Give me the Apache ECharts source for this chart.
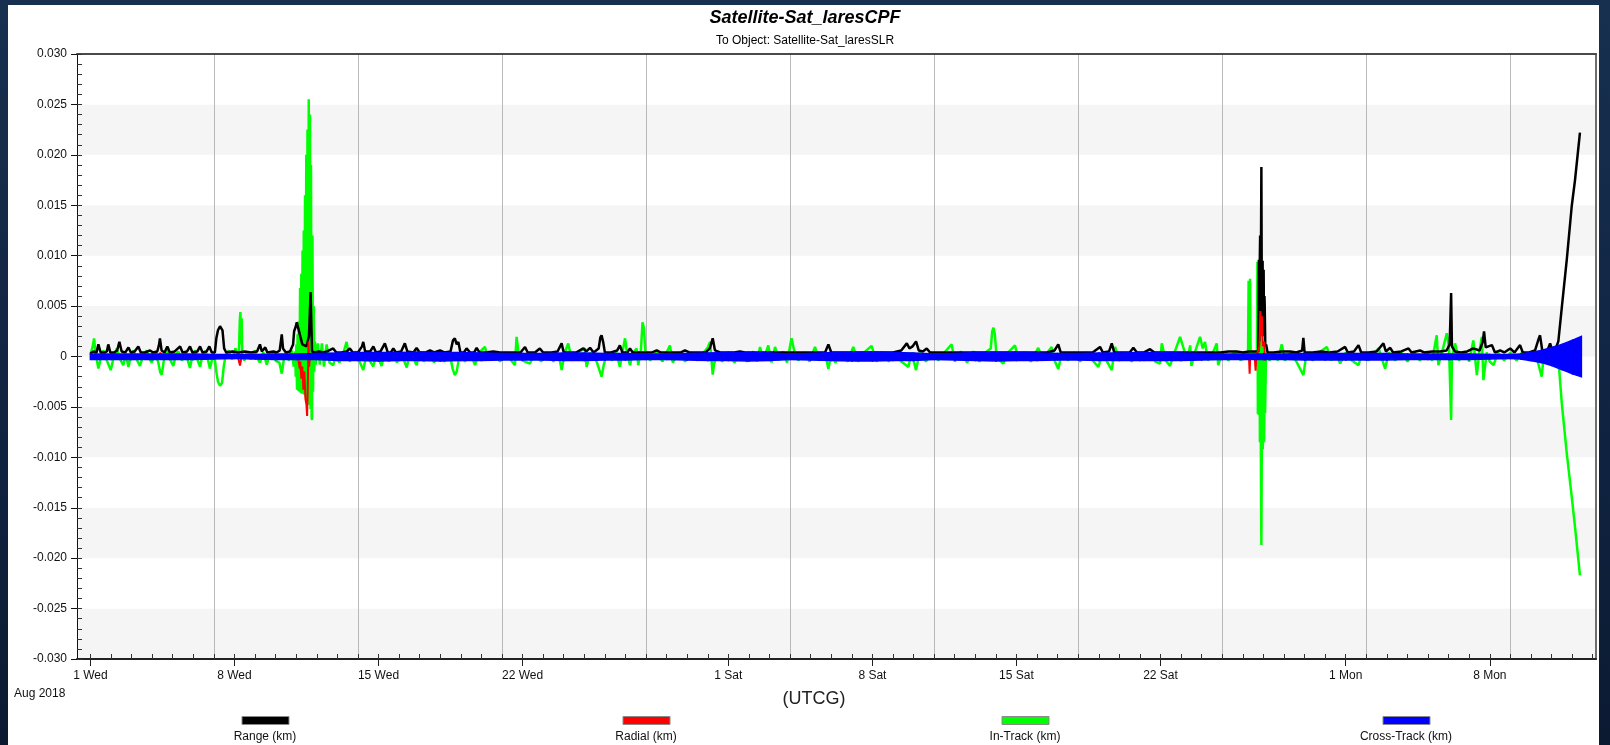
<!DOCTYPE html>
<html>
<head>
<meta charset="utf-8">
<script src="https://cdn.jsdelivr.net/npm/echarts@6/dist/echarts.min.js"></script>
<style>
html, body { margin: 0; padding: 0; width: 1610px; height: 745px; overflow: hidden;
  background: linear-gradient(180deg, #17304f 0%, #102442 55%, #0b1a31 100%); }
#chart { width: 1610px; height: 745px; }
</style>
</head>
<body>
<div id="chart"></div>
<script>
// Time axis is in days since 2018-08-01 00:00 UTCG.
const X_MIN = -0.65;
const X_MAX = 73.16;
const TICK_DAYS = [0, 7, 14, 21, 31, 38, 45, 52, 61, 68];
const TICK_LABELS = ['1 Wed', '8 Wed', '15 Wed', '22 Wed', '1 Sat', '8 Sat', '15 Sat', '22 Sat', '1 Mon', '8 Mon'];
const GRID_DAYS = [6, 13, 20, 27, 34, 41, 48, 55, 62, 69];
const Y_MIN = -0.03;
const Y_MAX = 0.03;
const Y_STEP = 0.005;

const SERIES_NAMES = ['Range (km)', 'Radial (km)', 'In-Track (km)', 'Cross-Track (km)'];
const SERIES_COLORS = ['#000000', '#ff0000', '#00ff00', '#0000ff'];

// Range difference, km  [day, value]
const RANGE_KM = [
  [0.00,0.0003],[0.15,0.0005],[0.30,0.0004],[0.39,0.0012],[0.50,0.0004],[0.70,0.0004],[0.80,0.0005],[0.87,0.0012],[0.97,0.0004],
  [1.15,0.0004],[1.30,0.0006],[1.41,0.00145],[1.52,0.0005],[1.70,0.0004],[1.85,0.0009],[1.97,0.0004],[2.15,0.0005],[2.33,0.0010],
  [2.45,0.0004],[2.65,0.0004],[2.90,0.0006],[3.05,0.0004],[3.25,0.0005],[3.33,0.0011],[3.38,0.0018],[3.46,0.0006],[3.60,0.0004],
  [3.74,0.0010],[3.86,0.0004],[4.10,0.0005],[4.36,0.0010],[4.48,0.0004],[4.70,0.0005],[4.84,0.0010],[4.96,0.0004],[5.20,0.0005],
  [5.33,0.0010],[5.45,0.0004],[5.65,0.0005],[5.78,0.0010],[5.90,0.0004],
  [6.05,0.0004],[6.12,0.0018],[6.20,0.0026],[6.30,0.0030],[6.42,0.0026],[6.50,0.0008],[6.60,0.0004],[6.90,0.0005],[7.20,0.0004],
  [7.50,0.0005],[7.80,0.0004],[8.10,0.0005],[8.24,0.0012],[8.33,0.0005],[8.50,0.0009],[8.60,0.0004],[8.90,0.0005],[9.05,0.0004],
  [9.20,0.0006],[9.30,0.0022],[9.36,0.0008],[9.50,0.0004],[9.70,0.0005],[9.85,0.0012],[9.90,0.0025],[9.97,0.0029],[10.03,0.0034],
  [10.10,0.0035],[10.20,0.0020],[10.30,0.0012],[10.50,0.0010],[10.62,0.0020],[10.70,0.0064],[10.74,0.0065],[10.77,0.0005],
  [10.90,0.0004],[11.10,0.0005],[11.30,0.0004],[11.50,0.0005],[11.80,0.0008],[11.95,0.0004],
  [12.20,0.0004],[12.45,0.0005],[12.61,0.0008],[12.75,0.0004],[13.00,0.0004],[13.20,0.0010],[13.26,0.00145],[13.35,0.0005],
  [13.60,0.0005],[13.75,0.0010],[13.88,0.0004],[14.10,0.0005],[14.31,0.0013],[14.45,0.0004],[14.60,0.0004],[14.72,0.0008],
  [14.85,0.0004],[15.10,0.0005],[15.28,0.0013],[15.40,0.0005],[15.70,0.0004],[15.85,0.00085],[16.00,0.0004],[16.30,0.0004],
  [16.50,0.0006],[16.70,0.0004],[16.99,0.0006],[17.20,0.0004],[17.50,0.0005],[17.62,0.0016],[17.71,0.0018],[17.80,0.0012],
  [17.88,0.00145],[17.98,0.0004],[18.15,0.0004],[18.28,0.0008],[18.45,0.0004],[18.65,0.0004],[18.77,0.00085],[18.90,0.0004],
  [19.20,0.0004],[19.58,0.0005],[19.90,0.0004],[20.30,0.0004],[20.60,0.0004],[20.90,0.0004],[21.12,0.00095],[21.25,0.0004],
  [21.60,0.0004],[21.84,0.0008],[22.00,0.0004],[22.40,0.0004],[22.70,0.0005],[22.90,0.0013],[23.00,0.0004],[23.30,0.0004],
  [23.60,0.0004],[23.95,0.0008],[24.10,0.0005],[24.28,0.00086],
  [24.45,0.0004],[24.70,0.0008],[24.78,0.0019],[24.84,0.0021],[24.92,0.0014],[25.00,0.0004],[25.30,0.0004],[25.60,0.0006],
  [25.73,0.0011],[25.85,0.0004],[26.10,0.0004],[26.22,0.0008],[26.35,0.0004],[26.70,0.0004],[27.00,0.0004],[27.30,0.0004],
  [27.52,0.0006],[27.70,0.0004],[28.00,0.0004],[28.40,0.0004],[28.70,0.0004],[28.89,0.0006],[29.10,0.0004],[29.50,0.0004],
  [29.90,0.0004],[30.10,0.0008],[30.24,0.0018],[30.35,0.0006],[30.60,0.0004],[31.00,0.0004],[31.30,0.0004],[31.56,0.0005],
  [31.80,0.0004],[32.20,0.0004],[32.60,0.0004],[33.00,0.0004],[33.40,0.0004],[33.80,0.0004],[34.20,0.0004],[34.60,0.0004],
  [35.00,0.0004],[35.40,0.0004],[35.70,0.0004],[35.86,0.0012],[36.00,0.0004],
  [36.40,0.0004],[36.80,0.0004],[37.20,0.0004],[37.60,0.0004],[38.00,0.0004],[38.50,0.0004],[39.00,0.0004],[39.40,0.0006],
  [39.67,0.0013],[39.80,0.0008],[39.95,0.0010],[40.12,0.0015],[40.25,0.0006],[40.45,0.0005],[40.64,0.0008],[40.80,0.0004],
  [41.20,0.0004],[41.60,0.0004],[42.00,0.0004],[42.40,0.0004],[42.80,0.0004],[43.20,0.0004],[43.60,0.0004],[44.00,0.0004],
  [44.50,0.0004],[45.00,0.0004],[45.50,0.0004],[46.00,0.0004],[46.50,0.0004],[46.85,0.0006],[47.03,0.0012],[47.15,0.0004],
  [47.50,0.0004],[47.90,0.0004],
  [48.30,0.0004],[48.70,0.0004],[49.06,0.00095],[49.20,0.0004],[49.50,0.0005],[49.63,0.0013],[49.75,0.0004],[50.20,0.0004],
  [50.50,0.0004],[50.68,0.00086],[50.85,0.0004],[51.20,0.0004],[51.49,0.00073],[51.70,0.0004],[52.10,0.0004],[52.50,0.0004],
  [52.90,0.0004],[53.30,0.0004],[53.70,0.0004],[54.10,0.0004],[54.50,0.0004],[54.90,0.0004],[55.30,0.0005],[55.70,0.0005],
  [56.00,0.0004],[56.30,0.0005],[56.60,0.0005],[56.75,0.0005],[56.78,0.0096],[56.80,0.0015],[56.82,0.0090],[56.84,0.0120],
  [56.86,0.0030],[56.88,0.0100],[56.90,0.0188],[56.92,0.0060],[56.93,0.0040],[56.95,0.0090],[56.96,0.0095],[56.98,0.0020],
  [57.00,0.0080],[57.01,0.0086],[57.03,0.0020],[57.05,0.0060],[57.06,0.0053],[57.09,0.0010],
  [57.13,0.0012],[57.20,0.0004],[57.50,0.0004],[57.90,0.0005],[58.30,0.0005],[58.60,0.0004],[58.88,0.0006],[58.94,0.00185],
  [59.00,0.0004],[59.40,0.0004],[59.80,0.0005],
  [60.20,0.0004],[60.60,0.0005],[60.97,0.00095],[61.10,0.0004],[61.40,0.0005],[61.62,0.00113],[61.75,0.0004],[62.10,0.0004],
  [62.50,0.0005],[62.83,0.0013],[62.95,0.0005],[63.16,0.00086],[63.30,0.0004],[63.70,0.0005],[64.05,0.0008],[64.20,0.0004],
  [64.61,0.0006],[64.80,0.0004],[65.20,0.0005],[65.60,0.0005],[65.90,0.0006],[66.05,0.0012],[66.12,0.0063],[66.16,0.0010],
  [66.30,0.0005],[66.60,0.0004],[66.90,0.0005],[67.20,0.0008],[67.50,0.0006],[67.65,0.0014],[67.72,0.0025],[67.80,0.0009],
  [68.10,0.00113],[68.25,0.0004],[68.50,0.0006],[68.70,0.0004],[68.99,0.0008],[69.20,0.0004],[69.47,0.00113],[69.60,0.0004],
  [69.90,0.0004],[70.20,0.0006],[70.38,0.0018],[70.44,0.0021],[70.55,0.0006],[70.80,0.0006],[70.93,0.0013],[71.05,0.0005],
  [71.20,0.0008],[71.33,0.0015],[71.50,0.0049],[71.74,0.0096],[71.98,0.0149],[72.14,0.0175],[72.38,0.0222]
];

// Radial difference, km  [day, value]
const RADIAL_KM = [
  [0.00,0.0001],[3.38,0.0001],[3.40,0.0004],[3.44,0.0001],[7.10,0.0001],[7.20,-0.0003],[7.27,-0.0009],[7.33,-0.0002],
  [7.50,0.0001],[10.10,-0.0002],[10.17,-0.0012],[10.20,-0.0005],[10.25,-0.0022],[10.30,-0.0010],[10.35,-0.0033],
  [10.40,-0.0015],[10.45,-0.0042],[10.50,-0.0048],[10.53,-0.0059],[10.56,-0.0035],[10.60,0.0015],[10.63,-0.0010],
  [10.67,0.0003],[10.75,-0.0002],[12.00,0.0001],[56.25,0.0000],[56.30,-0.0002],[56.33,-0.0017],[56.36,0.0000],
  [56.58,-0.0002],[56.62,-0.0014],[56.65,0.0000],[56.80,0.0010],[56.85,0.0045],[56.90,0.0020],[56.93,0.0040],
  [56.97,0.0010],[57.03,0.0015],[57.08,-0.0004],[57.12,0.0000],[72.40,0.0000]
];

// In-track difference, km  [day, value]
const IN_TRACK_KM = [
  [0.00,0.0002],[0.10,0.0009],[0.18,0.0018],[0.26,0.0002],[0.39,-0.0012],[0.50,-0.0002],[0.63,0.0006],[0.80,-0.0004],
  [0.99,-0.00135],[1.12,-0.0002],[1.28,0.0008],[1.45,-0.0003],[1.60,-0.00086],[1.72,0.0002],[1.85,-0.00103],[1.97,0.0001],
  [2.09,0.0006],[2.25,-0.0003],[2.41,-0.00093],[2.58,0.0002],[2.74,0.0006],[2.86,-0.0002],[2.98,-0.0006],[3.15,0.0004],
  [3.30,-0.0006],[3.40,-0.0016],[3.47,-0.0018],[3.56,-0.0005],[3.71,0.0006],[3.87,-0.0003],[4.03,-0.00093],[4.15,0.0001],
  [4.27,0.0005],[4.45,-0.0004],[4.62,0.0004],[4.84,-0.00113],[4.96,0.0001],[5.08,0.0006],[5.20,-0.0003],[5.33,-0.00103],
  [5.45,0.0002],[5.60,0.0005],[5.72,-0.0004],[5.81,-0.0012],[5.92,-0.0002],
  [6.05,-0.0003],[6.12,-0.0015],[6.20,-0.0025],[6.30,-0.0029],[6.40,-0.0026],[6.48,-0.0010],[6.58,0.0002],[6.72,0.0006],
  [6.88,-0.0003],[7.05,0.0008],[7.15,0.0002],[7.22,0.0005],[7.26,0.0035],[7.29,0.0044],[7.32,0.0012],[7.35,0.0038],
  [7.38,0.0003],[7.48,-0.0004],[7.62,0.0005],[7.80,-0.0003],[8.00,0.0006],[8.12,-0.0002],[8.24,-0.0006],[8.40,0.0004],
  [8.57,-0.0008],[8.72,0.0002],[8.85,0.0005],[9.00,-0.0004],[9.18,-0.0006],[9.30,-0.0017],[9.40,-0.0003],[9.52,0.0004],
  [9.65,-0.0004],[9.78,0.0006],[9.88,-0.0010],
  [9.95,0.0005],[9.98,-0.0020],[10.01,0.0012],[10.04,-0.0033],[10.07,0.0022],[10.10,-0.0034],[10.13,0.0035],[10.16,-0.0035],
  [10.19,0.0068],[10.22,-0.0036],[10.25,0.0082],[10.28,-0.0037],[10.31,0.0105],[10.34,-0.0037],[10.37,0.0125],[10.40,-0.0038],
  [10.43,0.0160],[10.46,-0.0040],[10.49,0.0200],[10.52,-0.0042],[10.55,0.0225],[10.58,-0.0045],[10.61,0.0255],[10.64,-0.0048],
  [10.67,0.0240],[10.70,-0.0052],[10.72,0.0190],[10.75,-0.0060],[10.77,-0.0063],[10.79,0.0120],[10.82,-0.0035],[10.85,0.0050],
  [10.88,-0.0015],[10.91,0.0015],[10.95,-0.0008],
  [11.05,0.0013],[11.15,-0.0008],[11.25,0.0013],[11.35,-0.0010],[11.48,0.0012],[11.62,-0.0006],[11.80,-0.00086],[11.95,0.0003],
  [12.10,-0.0006],[12.30,0.0004],[12.45,0.00145],[12.60,-0.0005],[12.90,0.0005],[13.10,-0.0006],[13.26,-0.00135],[13.45,0.0005],
  [13.60,-0.0005],[13.75,-0.0010],[13.90,0.0004],[14.15,-0.00095],[14.30,0.0004],[14.50,-0.0005],[14.70,0.0005],[14.90,-0.0006],
  [15.10,0.0004],[15.37,-0.0011],[15.55,0.0005],[15.85,-0.00086],[16.00,0.0004],[16.20,-0.0005],[16.45,0.0004],[16.70,-0.0006],
  [16.90,0.0003],[17.20,-0.0005],[17.45,0.0004],[17.60,-0.0012],[17.71,-0.00185],[17.80,-0.0015],[17.95,0.0003],[18.20,-0.0005],
  [18.45,0.0004],[18.69,-0.00086],[18.90,0.0004],[19.17,0.00095],[19.35,-0.0004],[19.60,0.0004],[19.90,-0.0005],[20.20,0.0004],
  [20.45,-0.0004],[20.63,-0.00086],[20.71,0.00195],[20.80,0.0004],[21.00,-0.0004],[21.36,-0.0007],[21.60,0.0004],[21.90,-0.0005],
  [22.20,0.0004],[22.50,-0.0005],[22.75,0.0003],[22.90,-0.00135],[23.05,0.0004],[23.22,0.0013],[23.40,-0.0004],[23.70,0.0004],
  [24.03,0.0008],[24.11,-0.00103],
  [24.30,0.0004],[24.60,-0.0005],[24.84,-0.0020],[24.95,-0.0008],[25.10,0.0004],[25.35,-0.0004],[25.55,0.0004],[25.73,-0.00103],
  [25.85,0.0004],[25.98,0.0018],[26.08,0.0003],[26.22,-0.00086],[26.35,0.0003],[26.54,0.0008],[26.62,-0.00086],[26.75,0.0006],
  [26.83,0.0034],[26.90,0.0028],[26.97,0.0004],[27.20,-0.0004],[27.50,0.0004],[27.80,-0.0005],[28.16,0.0011],[28.30,-0.0006],
  [28.60,0.0004],[28.90,-0.0005],[29.20,0.0004],[29.50,-0.0004],[29.80,0.0004],[30.00,0.0009],[30.11,0.00145],[30.24,-0.0018],
  [30.30,-0.0008],[30.45,0.0004],[30.70,-0.0005],[31.00,0.0004],[31.30,-0.0006],[31.60,0.0004],[31.90,-0.0005],[32.20,0.0005],
  [32.40,-0.0005],[32.54,0.00095],[32.70,-0.0004],[32.94,0.0011],[33.10,-0.0006],[33.27,0.00095],[33.45,-0.0004],[33.65,0.0005],
  [33.85,-0.0006],[34.07,0.0018],[34.20,0.0006],[34.40,-0.0004],[34.70,0.0004],[34.95,-0.0005],[35.21,0.00095],[35.40,-0.0004],
  [35.70,0.0004],[35.86,-0.00125],[36.00,0.0003],
  [36.20,-0.0006],[36.50,0.0004],[36.80,-0.0005],[37.07,0.00095],[37.30,-0.0005],[37.60,0.0004],[37.96,0.00105],[38.20,-0.0005],
  [38.50,0.0004],[38.80,-0.0005],[39.10,0.0004],[39.40,-0.0005],[39.75,-0.00103],[39.90,0.0004],[40.12,-0.00135],[40.30,0.0004],
  [40.60,-0.0005],[40.90,0.0004],[41.20,-0.0004],[41.50,0.0004],[41.85,0.0012],[42.00,-0.0005],[42.30,0.0005],[42.60,-0.0006],
  [42.90,0.0005],[43.20,-0.0005],[43.50,0.0004],[43.75,0.0008],[43.82,0.0025],[43.88,0.00285],[43.95,0.0022],[44.02,0.0003],
  [44.20,-0.0004],[44.36,-0.0007],[44.60,0.0004],[44.93,0.0011],[45.10,-0.0004],[45.40,0.0004],[45.70,-0.0005],[46.06,0.00086],
  [46.30,-0.0004],[46.50,0.0004],[46.71,0.00095],[46.85,-0.0004],[47.03,-0.00125],[47.20,0.0003],[47.50,-0.0004],[47.80,0.0004],
  [48.10,-0.0005],[48.40,0.0004],[48.70,-0.0004],[48.98,-0.00103],[49.20,0.0004],[49.40,-0.0005],[49.63,-0.00135],[49.79,0.00095],
  [50.00,-0.0004],[50.30,0.0004],[50.60,-0.0005],[50.90,0.0004],[51.20,-0.0004],[51.50,0.0004],[51.75,-0.0005],[51.98,-0.0007],
  [52.06,0.0013],[52.25,-0.0004],[52.46,-0.00093],[52.70,0.0005],[52.95,0.00195],[53.15,0.0006],[53.30,-0.0004],[53.44,0.0011],
  [53.50,-0.00093],[53.70,0.0006],[53.92,0.00195],[54.05,0.0008],[54.16,0.00145],[54.30,-0.0004],[54.55,0.0004],[54.73,0.0013],
  [54.80,-0.00086],[55.00,0.0003],[55.30,-0.0004],[55.60,0.0005],[55.90,-0.0004],[56.10,0.0005],[56.25,-0.0002],[56.28,0.0075],
  [56.31,0.0002],[56.35,0.0077],[56.38,-0.0003],[56.50,0.0004],[56.60,0.0003],[56.68,-0.0010],[56.71,0.0094],[56.73,-0.0057],
  [56.76,0.0090],[56.78,-0.0058],[56.80,0.0050],[56.83,-0.0085],[56.86,0.0020],[56.88,-0.0120],[56.90,-0.0187],[56.92,-0.0090],
  [56.95,0.0010],[56.97,-0.0092],[57.00,0.0005],[57.03,-0.0085],[57.06,-0.0020],[57.08,-0.0056],[57.12,-0.0005],[57.15,0.0003],
  [57.30,-0.0004],[57.50,0.0004],[57.70,-0.0004],[57.89,0.0012],[58.05,-0.0004],[58.30,0.0004],[58.60,-0.0005],[58.94,-0.00185],
  [59.10,0.0004],[59.40,-0.0004],[59.70,0.0004],[60.08,0.00095],
  [60.30,-0.0004],[60.50,0.0004],[60.73,-0.0007],[61.00,0.0004],[61.30,-0.0004],[61.62,-0.00086],[61.80,0.0004],[62.10,-0.0004],
  [62.40,0.0004],[62.60,0.0008],[62.91,-0.0012],[63.10,0.0004],[63.40,-0.0004],[63.70,0.0004],[64.00,-0.0005],[64.30,0.0004],
  [64.60,-0.0004],[64.90,0.0004],[65.20,-0.0004],[65.42,0.0021],[65.50,-0.00086],[65.70,0.0006],[65.91,0.0023],[66.02,0.0008],
  [66.12,-0.0063],[66.16,-0.0002],[66.31,0.0013],[66.50,-0.0004],[66.80,0.0005],[67.00,-0.0005],[67.20,0.0016],[67.37,-0.00185],
  [67.50,0.0006],[67.61,0.00195],[67.69,-0.00235],[67.85,0.0004],[68.00,-0.0005],[68.18,-0.00086],[68.40,0.0004],[68.70,-0.0004],
  [69.00,0.0004],[69.30,-0.0004],[69.60,0.0005],[69.90,-0.0004],[70.20,0.0005],[70.52,-0.0020],[70.65,0.0006],[70.90,-0.0005],
  [71.10,0.0004],[71.33,-0.0002],[71.50,-0.0047],[71.74,-0.0096],[71.98,-0.0139],[72.14,-0.0169],[72.38,-0.0217]
];

// Cross-track difference, km: envelope of the fast oscillation  [day, low, high]
const CROSS_TRACK_ENV = [
  [0,-0.0003,0.00025],[1,-0.0003,0.00025],[2,-0.0003,0.00025],[3,-0.0003,0.00025],[4,-0.0003,0.00025],[5,-0.0003,0.00025],
  [6,-0.00025,0.0002],[7,-0.0002,0.0002],[8,-0.00025,0.0002],[9,-0.0003,0.00025],[10,-0.0003,0.00025],[11,-0.0003,0.0003],
  [12,-0.0004,0.00035],[13,-0.0004,0.0004],[14,-0.00045,0.0004],[15,-0.0004,0.0004],[16,-0.0004,0.00045],[17,-0.00045,0.0004],
  [18,-0.0004,0.0004],[19,-0.0004,0.00035],[20,-0.00035,0.0003],[21,-0.00035,0.0003],[22,-0.00035,0.0003],[23,-0.0004,0.00035],
  [24,-0.0004,0.00035],[25,-0.00035,0.0003],[26,-0.00035,0.0003],[27,-0.0003,0.00025],[28,-0.0003,0.00025],[29,-0.00035,0.0003],
  [30,-0.0004,0.00035],[31,-0.0004,0.0004],[32,-0.00045,0.0004],[33,-0.0004,0.00035],[34,-0.0003,0.00025],[35,-0.00035,0.0003],
  [36,-0.0004,0.0004],[37,-0.00045,0.0004],[38,-0.00045,0.00045],[39,-0.0004,0.0004],[40,-0.0004,0.00035],[41,-0.0003,0.00025],
  [42,-0.00035,0.0003],[43,-0.0004,0.0004],[44,-0.00045,0.0004],[45,-0.0004,0.0004],[46,-0.0004,0.00035],[47,-0.00035,0.0003],
  [48,-0.00035,0.0003],[49,-0.0004,0.00035],[50,-0.0004,0.00035],[51,-0.0004,0.0004],[52,-0.0004,0.0004],[53,-0.0004,0.00035],
  [54,-0.00035,0.0003],[55,-0.0003,0.00025],[56,-0.0003,0.00025],[57,-0.0003,0.00025],[58,-0.0003,0.00025],[59,-0.00035,0.0003],
  [60,-0.00035,0.0003],[61,-0.00035,0.0003],[62,-0.00035,0.0003],[63,-0.00035,0.0003],[64,-0.0003,0.00025],[65,-0.0003,0.00025],
  [66,-0.0003,0.00025],[67,-0.0003,0.00025],[68,-0.00025,0.0002],[69,-0.0002,0.0002],[69.5,-0.00025,0.00025],[70,-0.0004,0.0004],
  [70.5,-0.0006,0.0006],[71,-0.0009,0.0009],[71.5,-0.0013,0.0012],[72,-0.0017,0.0016],[72.45,-0.0020,0.0020]
];

const FONT = '"Liberation Sans", Arial, sans-serif';
const LEGEND_CENTERS = [265, 646, 1025, 1406];

// Daily minor ticks along the time axis
const MINOR_DAYS = [];
for (let d = 0; d <= Math.floor(X_MAX); d++) MINOR_DAYS.push(d);

function tickLabel(v) {
  let best = 0;
  for (let i = 1; i < TICK_DAYS.length; i++) {
    if (Math.abs(TICK_DAYS[i] - v) < Math.abs(TICK_DAYS[best] - v)) best = i;
  }
  return TICK_LABELS[best];
}

function lineSeries(name, data, color, width) {
  return {
    name, type: 'line', data, xAxisIndex: 0, yAxisIndex: 0, z: 2,
    showSymbol: false, symbol: 'none', animation: false, silent: true,
    lineStyle: { color, width }, itemStyle: { color }, clip: true
  };
}

const crossTrack = {
  name: SERIES_NAMES[3], type: 'custom', data: CROSS_TRACK_ENV, z: 5,
  xAxisIndex: 0, yAxisIndex: 0, animation: false, silent: true, clip: true,
  itemStyle: { color: SERIES_COLORS[3] },
  encode: { x: 0, y: [1, 2] },
  renderItem(params, api) {
    const i = params.dataIndex;
    if (i >= CROSS_TRACK_ENV.length - 1) return null;
    const a = CROSS_TRACK_ENV[i], b = CROSS_TRACK_ENV[i + 1];
    const pts = [
      api.coord([a[0], a[2]]), api.coord([b[0], b[2]]),
      api.coord([b[0], b[1]]), api.coord([a[0], a[1]])
    ];
    return { type: 'polygon', shape: { points: pts },
      style: { fill: SERIES_COLORS[3], stroke: SERIES_COLORS[3], lineWidth: 1.5 } };
  }
};

function hiddenAxis(extra) {
  return Object.assign({
    axisLine: { show: false, onZero: false },
    axisTick: { show: false },
    axisLabel: { show: false },
    splitLine: { show: false },
    splitArea: { show: false }
  }, extra);
}

const option = {
  backgroundColor: 'transparent',
  animation: false,
  title: [
    { text: 'Satellite-Sat_laresCPF', left: 'center', top: 9, padding: [0, 0, 0, 18],
      textStyle: { fontFamily: FONT, fontSize: 18, fontWeight: 'bold', fontStyle: 'italic', color: '#000' } },
    { text: 'To Object: Satellite-Sat_laresSLR', left: 'center', top: 35, padding: [0, 0, 0, 18],
      textStyle: { fontFamily: FONT, fontSize: 12, fontWeight: 'normal', color: '#000' } }
  ],
  grid: { left: 77, right: 14, top: 54, bottom: 86, containLabel: false, outerBoundsMode: 'none' },
  xAxis: [
    { type: 'value', min: X_MIN, max: X_MAX, position: 'bottom',
      axisLine: { show: true, onZero: false, lineStyle: { color: '#222', width: 2 } },
      axisTick: { show: true, customValues: TICK_DAYS, inside: false, length: 7, lineStyle: { color: '#222', width: 1 } },
      axisLabel: { show: true, customValues: TICK_DAYS, formatter: tickLabel, margin: 11,
        fontFamily: FONT, fontSize: 12, color: '#111' },
      splitLine: { show: false } },
    hiddenAxis({ type: 'value', min: X_MIN, max: X_MAX, position: 'bottom',
      axisTick: { show: true, customValues: MINOR_DAYS, inside: true, length: 5, lineStyle: { color: '#333', width: 1 } } }),
    hiddenAxis({ type: 'value', min: X_MIN, max: X_MAX, position: 'bottom',
      axisTick: { show: false, customValues: GRID_DAYS },
      splitLine: { show: true, lineStyle: { color: '#b9b9b9', width: 1 } } }),
    hiddenAxis({ type: 'value', min: X_MIN, max: X_MAX, position: 'top',
      axisLine: { show: true, onZero: false, lineStyle: { color: '#4a4a4a', width: 2 } } })
  ],
  yAxis: [
    { type: 'value', min: Y_MIN, max: Y_MAX, interval: Y_STEP, position: 'left',
      axisLine: { show: true, onZero: false, lineStyle: { color: '#111', width: 1 } },
      axisTick: { show: true, inside: false, length: 6, lineStyle: { color: '#111', width: 1 } },
      axisLabel: { margin: 10, fontFamily: FONT, fontSize: 12, color: '#111',
        formatter: v => (Math.abs(v) < 1e-9 ? '0' : v.toFixed(3)) },
      splitLine: { show: false },
      splitArea: { show: true, areaStyle: { color: ['#f5f5f5', '#ffffff'] } } },
    hiddenAxis({ type: 'value', min: Y_MIN, max: Y_MAX, interval: 0.001, position: 'left',
      axisTick: { show: true, inside: true, length: 5, lineStyle: { color: '#333', width: 1 } } }),
    hiddenAxis({ type: 'value', min: Y_MIN, max: Y_MAX, interval: Y_STEP, position: 'right',
      axisLine: { show: true, onZero: false, lineStyle: { color: '#6e6e6e', width: 2 } } })
  ],
  legend: SERIES_NAMES.map((n, i) => ({
    data: [n], left: LEGEND_CENTERS[i] - 23.5, top: 716, padding: 0, itemGap: 0,
    itemWidth: 47, itemHeight: 8, icon: 'rect', selectedMode: false,
    formatter: () => '', textStyle: { fontSize: 10 },
    itemStyle: { borderColor: '#8a8a8a', borderWidth: 1 }
  })),
  graphic: [
    { type: 'rect', z: -10, silent: true, shape: { x: 8, y: 5, width: 1591, height: 745 }, style: { fill: '#ffffff' } },
    { type: 'text', silent: true, style: { text: 'Aug 2018', x: 14, y: 694, fill: '#111', font: '12px ' + FONT, verticalAlign: 'middle' } },
    { type: 'text', silent: true, style: { text: '(UTCG)', x: 814, y: 699, fill: '#222', font: '18px ' + FONT, align: 'center', verticalAlign: 'middle' } }
  ].concat(SERIES_NAMES.map((n, i) => ({
    type: 'text', silent: true,
    style: { text: n, x: LEGEND_CENTERS[i], y: 737, fill: '#111', font: '12px ' + FONT, align: 'center', verticalAlign: 'middle' }
  }))),
  series: [
    lineSeries(SERIES_NAMES[2], IN_TRACK_KM, SERIES_COLORS[2], 2.5),
    lineSeries(SERIES_NAMES[0], RANGE_KM, SERIES_COLORS[0], 2.5),
    lineSeries(SERIES_NAMES[1], RADIAL_KM, SERIES_COLORS[1], 2),
    crossTrack
  ]
};

const chart = echarts.init(document.getElementById('chart'), null, { renderer: 'canvas' });
chart.setOption(option);
</script>
</body>
</html>
